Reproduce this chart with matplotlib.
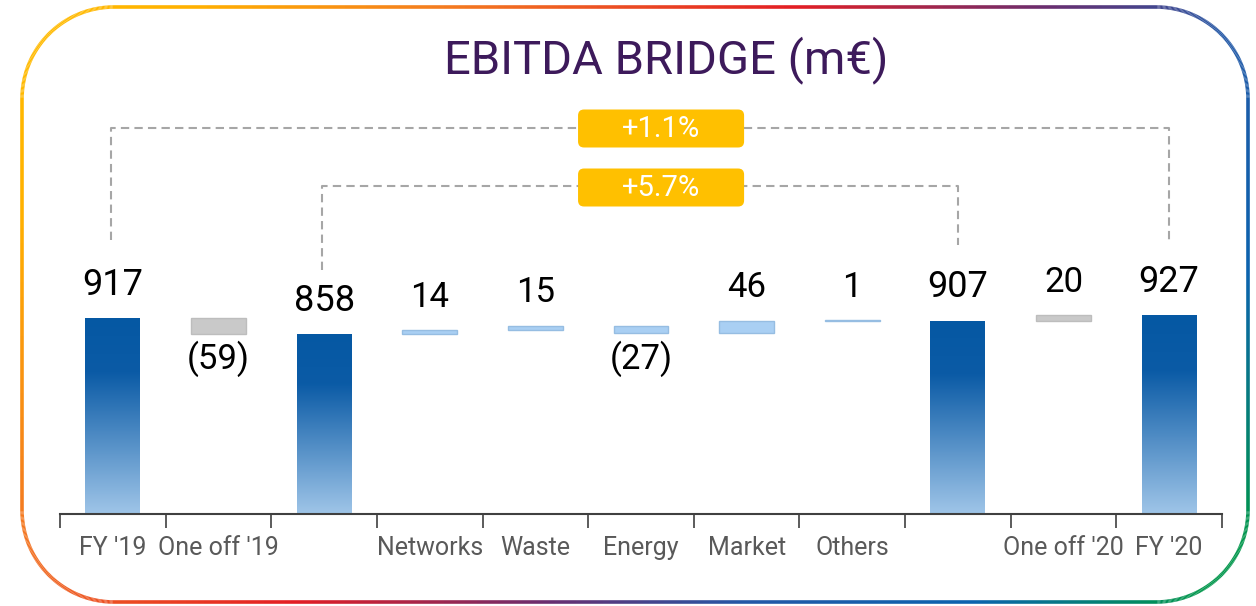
import numpy as np
import matplotlib
matplotlib.use('Agg')
import matplotlib.pyplot as plt
from matplotlib.patches import Rectangle, FancyBboxPatch
from matplotlib.collections import LineCollection
from matplotlib.colors import LinearSegmentedColormap

plt.rcParams['font.family'] = ['Roboto', 'DejaVu Sans']

# data
categories = ["FY '19", "One off '19", "", "Networks", "Waste", "Energy",
              "Market", "Others", "", "One off '20", "FY '20"]
values = [917, -59, 858, 14, 15, -27, 46, 1, 907, 20, 927]
kinds = ['total', 'oneoff', 'total', 'delta', 'delta', 'delta',
         'delta', 'delta', 'total', 'oneoff', 'total']
growth_labels = ['+1.1%', '+5.7%']

W, H = 1256, 606
fig = plt.figure(figsize=(W / 100, H / 100), dpi=100)

# background axes in pixel coords for the rounded gradient border
bg = fig.add_axes([0, 0, 1, 1])
bg.set_xlim(0, W)
bg.set_ylim(H, 0)
bg.axis('off')

x0, x1, y0, y1, r = 22, 1248, 7, 602, 92
pts = []
for cx, cy, a0, a1 in [(x1 - r, y0 + r, -90, 0), (x1 - r, y1 - r, 0, 90),
                       (x0 + r, y1 - r, 90, 180), (x0 + r, y0 + r, 180, 270)]:
    a = np.radians(np.linspace(a0, a1, 60))
    pts.append(np.c_[cx + r * np.cos(a), cy + r * np.sin(a)])
pts = np.vstack(pts + [pts[0][:1]])
# densify
dense = []
for p, q in zip(pts[:-1], pts[1:]):
    n = max(2, int(np.hypot(*(q - p)) / 3))
    dense.append(np.linspace(p, q, n, endpoint=False))
dense = np.vstack(dense + [pts[-1:]])
segs = np.stack([dense[:-1], dense[1:]], axis=1)
t = segs.mean(axis=1) @ np.array([1.0, 0.84])
border_cmap = LinearSegmentedColormap.from_list('border', [
    (0.0, '#ffc000'), (200 / 1700, '#ffb000'), (450 / 1700, '#f47b20'),
    (800 / 1700, '#e31e24'), (1050 / 1700, '#6b2d6e'), (1250 / 1700, '#2458a6'),
    (1480 / 1700, '#0c63ae'), (1.0, '#00964b')])
lc = LineCollection(segs, colors=border_cmap(np.clip(t / 1700, 0, 1)), linewidths=2.6)
bg.add_collection(lc)

fig.text(666 / W, 1 - 60 / H, 'EBITDA BRIDGE (m€)', fontsize=34, color='#3d1a5b',
         ha='center', va='center')

# main axes
ymin = 194
px_per_unit = 0.2711
ytop = ymin + 414 / px_per_unit
ax = fig.add_axes([60 / W, 1 - 514 / H, 1162 / W, 414 / H])
ax.patch.set_alpha(0)

def ypx(p):
    return ymin + (514 - p) / px_per_unit

grad = LinearSegmentedColormap.from_list('bar', [(0, '#9fc5e8'), (0.72, '#0b5ba6'), (1, '#0558a3')])
gimg = np.linspace(0, 1, 256).reshape(-1, 1)

bw = 0.52
running = 0
for i, (v, k) in enumerate(zip(values, kinds)):
    if k == 'total':
        rect = Rectangle((i - bw / 2, ymin), bw, v - ymin, facecolor='none', edgecolor='none')
        ax.add_patch(rect)
        im = ax.imshow(gimg, extent=[i - bw / 2, i + bw / 2, ymin, v], origin='lower',
                       cmap=grad, aspect='auto', zorder=2)
        im.set_clip_path(rect)
        running = v
        ax.annotate(f'{v}', (i, v), xytext=(0, 11), textcoords='offset points',
                    ha='center', va='bottom', fontsize=26, color='black')
    else:
        lo, hi = sorted([running, running + v])
        fc, ec = ('#c9c9c9', '#bdbdbd') if k == 'oneoff' else ('#a9cff3', '#96bde2')
        ax.add_patch(Rectangle((i - bw / 2, lo), bw, max(hi - lo, 2), facecolor=fc,
                               edgecolor=ec, linewidth=1, zorder=2))
        running += v
        if v < 0:
            ax.annotate(f'({-v})', (i, lo), xytext=(0, -5), textcoords='offset points',
                        ha='center', va='top', fontsize=25, color='black')
        else:
            ax.annotate(f'{v}', (i, hi), xytext=(0, 12), textcoords='offset points',
                        ha='center', va='bottom', fontsize=25, color='black')

# growth connectors
dash = dict(color='#a6a6a6', lw=1.5, linestyle=(0, (4, 2.5)), zorder=1)
ax.plot([-0.02, -0.02, 10.0, 10.0], [ypx(240), ypx(128), ypx(128), ypx(240)], **dash)
ax.plot([1.98, 1.98, 8.0, 8.0], [ypx(270), ypx(186), ypx(186), ypx(245)], **dash)

xs_per_px = 1 / 105.6
aspect = (1 / px_per_unit) / xs_per_px
for lab, cy in zip(growth_labels, [128.5, 187.5]):
    pw, ph = 166 * xs_per_px, 38 / px_per_unit
    cx = 5.19
    box = FancyBboxPatch((cx - pw / 2, ypx(cy) - ph / 2), pw, ph,
                         boxstyle=f'round,pad=0,rounding_size={6 * xs_per_px}',
                         mutation_aspect=aspect, facecolor='#ffc000', edgecolor='none', zorder=3)
    ax.add_patch(box)
    ax.text(cx, ypx(cy), lab, ha='center', va='center', fontsize=21, color='white', zorder=4)

ax.set_xlim(-0.5, 10.5)
ax.set_ylim(ymin, ytop)
for s in ['top', 'right', 'left']:
    ax.spines[s].set_visible(False)
ax.spines['bottom'].set_color('#404040')
ax.spines['bottom'].set_linewidth(1.5)
ax.set_yticks([])
ax.set_xticks(range(len(categories)))
ax.set_xticklabels(categories, fontsize=18, color='#595959')
ax.tick_params(axis='x', which='major', length=0, pad=16)
ax.set_xticks(np.arange(-0.5, 11, 1), minor=True)
ax.tick_params(axis='x', which='minor', length=10, width=1.2, color='#404040')

fig.savefig('out.png', dpi=100)
